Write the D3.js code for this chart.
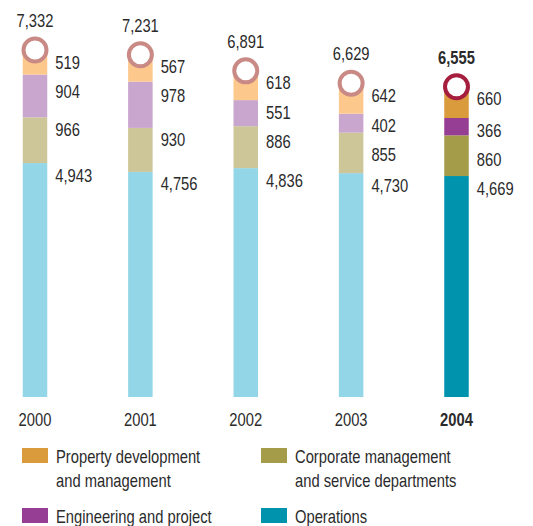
<!DOCTYPE html>
<html lang="en">
<head>
    <meta charset="utf-8">
    <title>Staff by division</title>
    <script src="https://d3js.org/d3.v7.min.js"></script>
    <style>
      body { margin: 0; background: #fff; }
      text { font-family: "Liberation Sans", Arial, sans-serif; fill: #2b2b2b; font-size: 18px; }
    </style>
</head>
<body>
<svg id="chart"></svg>
<script>
    // Data (bottom to top within each bar)
    const years = ["2000", "2001", "2002", "2003", "2004"];
    const operations = [4943, 4756, 4836, 4730, 4669];
    const corporate = [966, 930, 886, 855, 860];
    const engineering = [904, 978, 551, 402, 366];
    const property = [519, 567, 618, 642, 660];
    const totals = [7332, 7231, 6891, 6629, 6555];

    const seriesValues = [operations, corporate, engineering, property];
    const paleColors = ["#93d6e8", "#cdc698", "#c8a6cd", "#fdc88c"];
    const strongColors = ["#0093ad", "#a59c4a", "#953e93", "#da9b3d"];

    const svg = d3.select("#chart")
        .attr("width", 533)
        .attr("height", 526);

    const x = d3.scalePoint().domain(years).range([35, 456.5]);
    const y = d3.scaleLinear().domain([0, 7332]).range([397, 50]);
    const barW = 24.5;
    const fmt = d3.format(",");

    // condensed-looking text: squeeze horizontally
    function label(px, py, str, anchor, bold) {
        return svg.append("text")
            .attr("transform", `translate(${px},${py}) scale(0.82,1)`)
            .attr("text-anchor", anchor || "start")
            .style("font-weight", bold ? "bold" : "normal")
            .text(str);
    }

    years.forEach((yr, i) => {
        const last = i === years.length - 1;
        const cx = x(yr);
        const tops = [];
        let base = 0;
        seriesValues.forEach((vals, s) => {
            const v = vals[i];
            const top = base + v;
            svg.append("rect")
                .attr("x", cx - barW / 2)
                .attr("width", barW)
                .attr("y", y(top))
                .attr("height", y(base) - y(top))
                .attr("fill", last ? strongColors[s] : paleColors[s]);
            tops.push(top);
            base = top;
        });

        // value labels, top segment first, kept apart
        let prev = -Infinity;
        for (let s = seriesValues.length - 1; s >= 0; s--) {
            const c = Math.max(y(tops[s]) + 12, prev + 29);
            label(cx + barW / 2 + 8, c + 6.5, fmt(seriesValues[s][i]));
            prev = c;
        }

        // circle marker at the top
        svg.append("circle")
            .attr("cx", cx)
            .attr("cy", y(totals[i]))
            .attr("r", 11.5)
            .attr("fill", "#fff")
            .attr("stroke", last ? "#a61e3e" : "#c98a86")
            .attr("stroke-width", 4);

        label(cx, y(totals[i]) - 23, fmt(totals[i]), "middle", last);
        label(cx, 426, yr, "middle", last);
    });

    // Legend
    const legend = [
        {color: strongColors[3], lines: ["Property development", "and management"], x: 22, y: 448},
        {color: strongColors[1], lines: ["Corporate management", "and service departments"], x: 261, y: 448},
        {color: strongColors[2], lines: ["Engineering and project"], x: 22, y: 508},
        {color: strongColors[0], lines: ["Operations"], x: 261, y: 508}
    ];
    legend.forEach(l => {
        svg.append("rect")
            .attr("x", l.x)
            .attr("y", l.y)
            .attr("width", 26)
            .attr("height", 15)
            .attr("fill", l.color);
        l.lines.forEach((t, j) => {
            label(l.x + 34, l.y + 15 + j * 24, t);
        });
    });
</script>
</body>
</html>
